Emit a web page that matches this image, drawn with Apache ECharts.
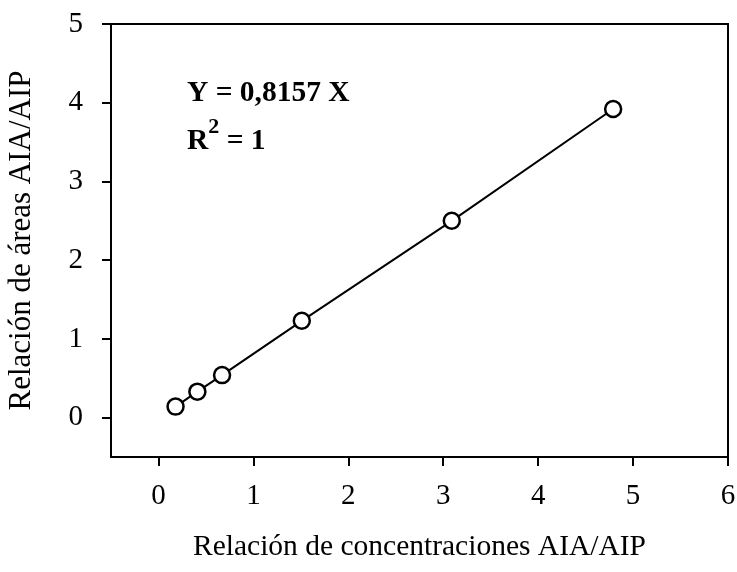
<!DOCTYPE html>
<html>
<head>
  <meta charset="utf-8">
  <title>Relación AIA/AIP</title>
  <script src="https://cdn.jsdelivr.net/npm/echarts@6/dist/echarts.min.js"></script>
</head>
<body style="margin:0">
<div id="main" style="width:737px;height:572px;"></div>
<script type="text/javascript">
// datos
var concX = [0.18, 0.41, 0.67, 1.51, 3.09, 4.79];
var areaY = [0.14, 0.33, 0.54, 1.23, 2.50, 3.92];
var xTicks = [0, 1, 2, 3, 4, 5, 6];
var yTicks = [0, 1, 2, 3, 4, 5];

var serif = '"Liberation Serif", "Times New Roman", serif';
var pts = concX.map(function (x, i) { return [x, areaY[i]]; });

var myChart = echarts.init(document.getElementById('main'));

var option = {
    animation: false,
    backgroundColor: '#fff',
    grid: { left: 111, right: 9, top: 24, bottom: 115, outerBoundsMode: 'none', containLabel: false,
        show: true, borderColor: '#000', borderWidth: 2, backgroundColor: 'transparent' },
    xAxis: {
        type: 'value', min: -0.5, max: 6, interval: 0.5,
        name: 'Relación de concentraciones AIA/AIP',
        nameLocation: 'middle', nameGap: 75, nameMoveOverlap: false,
        nameTextStyle: { fontFamily: serif, fontSize: 29.5, color: '#000' },
        axisLine: { show: false, onZero: false },
        axisTick: { show: true, inside: false, length: 9, lineStyle: { color: '#000', width: 2 },
            customValues: xTicks },
        axisLabel: { fontFamily: serif, fontSize: 29, color: '#000', margin: 25,
            customValues: xTicks },
        splitLine: { show: false }
    },
    yAxis: {
        type: 'value', min: -0.5, max: 5, interval: 0.5,
        name: 'Relación de áreas AIA/AIP',
        nameLocation: 'middle', nameGap: 74, nameMoveOverlap: false,
        nameTextStyle: { fontFamily: serif, fontSize: 31, color: '#000' },
        axisLine: { show: false, onZero: false },
        axisTick: { show: true, inside: false, length: 9, lineStyle: { color: '#000', width: 2 },
            customValues: yTicks },
        axisLabel: { fontFamily: serif, fontSize: 29, color: '#000', margin: 28,
            customValues: yTicks },
        splitLine: { show: false }
    },
    graphic: [
        { type: 'text', left: 187, top: 78,
          style: { text: 'Y = 0,8157 X', font: 'bold 29.5px ' + serif, fill: '#000' } },
        { type: 'text', left: 187, top: 116,
          style: { text: '{a|R}{s|2}{a| = 1}', fill: '#000',
            rich: {
                a: { fontFamily: serif, fontWeight: 'bold', fontSize: 29.5, lineHeight: 40, verticalAlign: 'bottom' },
                s: { fontFamily: serif, fontWeight: 'bold', fontSize: 22, verticalAlign: 'top', lineHeight: 40 }
            } } }
    ],
    series: [{
        type: 'line',
        data: pts,
        symbol: 'circle', symbolSize: 16,
        itemStyle: { color: '#fff', borderColor: '#000', borderWidth: 2.5 },
        lineStyle: { color: '#000', width: 2 },
        z: 3
    }]
};
myChart.setOption(option);
</script>
</body>
</html>
